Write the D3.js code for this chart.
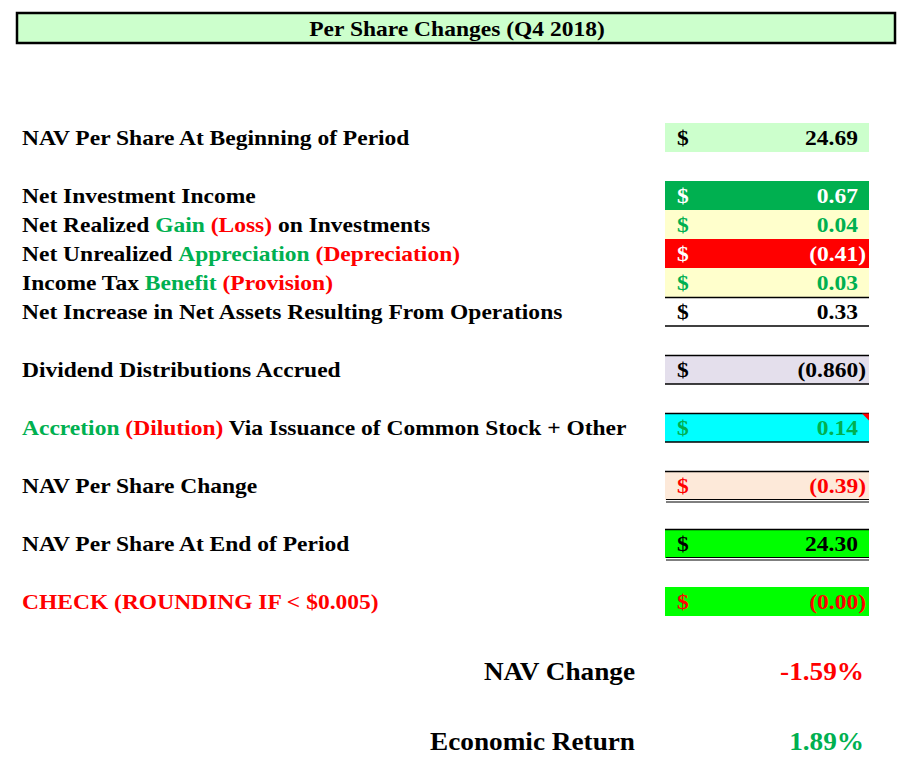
<!DOCTYPE html>
<html>
<head>
<meta charset="utf-8">
<script src="https://cdn.jsdelivr.net/npm/d3@7"></script>
<style>
  body { margin: 0; background: #fff; }
  svg text { font-family: "Liberation Serif", "Times New Roman", serif; font-weight: bold; }
</style>
</head>
<body>
<svg id="chart" width="909" height="778"></svg>
<script>
// sheet data
var title = 'Per Share Changes (Q4 2018)';
var rowIds = ['begin', 'nii', 'realized', 'unrealized', 'tax', 'ops', 'div', 'accr', 'chg', 'end', 'check'];
var rowSlots = [0, 2, 3, 4, 5, 6, 8, 10, 12, 14, 16];
// label pieces: [text, tone] tone: '' plain, 'pos' green, 'neg' red
var rowLabels = [
    [['NAV Per Share At Beginning of Period', '']],
    [['Net Investment Income', '']],
    [['Net Realized ', ''], ['Gain', 'pos'], [' (Loss)', 'neg'], [' on Investments', '']],
    [['Net Unrealized ', ''], ['Appreciation', 'pos'], [' (Depreciation)', 'neg']],
    [['Income Tax ', ''], ['Benefit', 'pos'], [' (Provision)', 'neg']],
    [['Net Increase in Net Assets Resulting From Operations', '']],
    [['Dividend Distributions Accrued', '']],
    [['Accretion', 'pos'], [' (Dilution)', 'neg'], [' Via Issuance of Common Stock + Other', '']],
    [['NAV Per Share Change', '']],
    [['NAV Per Share At End of Period', '']],
    [['CHECK (ROUNDING IF < $0.005)', 'neg']]
];
var rowValues = [24.69, 0.67, 0.04, -0.41, 0.03, 0.33, -0.860, 0.14, -0.39, 24.30, -0.001];
var rowDecimals = [2, 2, 2, 2, 2, 2, 3, 2, 2, 2, 2];

var summaryLabels = ['NAV Change', 'Economic Return'];
var summaryValues = [-1.59, 1.89];

// cell styling per row
var cellStyle = {
    begin:      {fill: '#CCFFCC', color: '#000'},
    nii:        {fill: '#00B050', color: '#fff'},
    realized:   {fill: '#FFFFCC', color: '#00B050'},
    unrealized: {fill: '#FF0000', color: '#fff'},
    tax:        {fill: '#FFFFCC', color: '#00B050'},
    ops:        {fill: 'none', color: '#000', top: 1, bottom: 1},
    div:        {fill: '#E4DFEC', color: '#000', top: 1, bottom: 1},
    accr:       {fill: '#00FFFF', color: '#00B050', top: 1, bottom: 1, note: true},
    chg:        {fill: '#FDE9D9', color: '#FF0000', top: 1, bottom: 2},
    end:        {fill: '#00FF00', color: '#000', top: 1, bottom: 2},
    check:      {fill: '#00FF00', color: '#FF0000'}
};
var toneColor = {'': '#000', pos: '#00B050', neg: '#FF0000'};

var svg = d3.select('#chart');

// text placed at x,y and stretched horizontally about its anchor
// (the sheet's Times renders wider than Liberation Serif)
function addText(parent, x, yy, size, anchor, stretch){
    return parent.append('g')
        .attr('transform', 'translate(' + x + ',' + yy + ') scale(' + (stretch || 1.12) + ',1)')
        .append('text')
        .attr('font-size', size)
        .attr('text-anchor', anchor || 'start');
}

// header bar
svg.append('rect')
    .attr('x', 17).attr('y', 13)
    .attr('width', 878).attr('height', 30)
    .attr('fill', '#CCFFCC')
    .attr('stroke', '#000')
    .attr('stroke-width', 2.5);
addText(svg, 457, 36, 21, 'middle').text(title);

// rows sit on a 29px sheet grid
var y = d3.scaleLinear().domain([0, 1]).range([123, 152]);
var rowH = y(1) - y(0);
var cellX = d3.scaleLinear().domain([0, 1]).range([665, 869]);

function fmt(v, dec){
    var s = Math.abs(v).toFixed(dec);
    return v < 0 ? '(' + s + ')' : s;
}

var rows = svg.selectAll('g.row')
    .data(rowIds.map(function(id, i){
        return {id: id, slot: rowSlots[i], label: rowLabels[i], value: rowValues[i], dec: rowDecimals[i]};
    }))
    .enter().append('g')
    .attr('class', 'row')
    .attr('transform', function(d){ return 'translate(0,' + y(d.slot) + ')'; });

rows.each(function(d){
    var g = d3.select(this);
    var st = cellStyle[d.id];
    var x0 = cellX(0), x1 = cellX(1);

    if (st.fill != 'none'){
        g.append('rect')
            .attr('x', x0).attr('y', 0)
            .attr('width', x1 - x0).attr('height', rowH)
            .attr('fill', st.fill);
    }
    if (st.top){
        g.append('line').attr('x1', x0).attr('x2', x1)
            .attr('y1', 0.5).attr('y2', 0.5)
            .attr('stroke', '#000').attr('stroke-width', 1.3);
    }
    if (st.bottom == 1){
        g.append('line').attr('x1', x0).attr('x2', x1)
            .attr('y1', rowH).attr('y2', rowH)
            .attr('stroke', '#000').attr('stroke-width', 1.3);
    } else if (st.bottom == 2){
        [rowH - 0.5, rowH + 2].forEach(function(yy){
            g.append('line').attr('x1', x0 + 1).attr('x2', x1)
                .attr('y1', yy).attr('y2', yy)
                .attr('stroke', '#000').attr('stroke-width', 1);
        });
    }
    if (st.note){
        g.append('path')
            .attr('d', 'M' + (x1 - 7) + ',0.5 L' + x1 + ',0.5 L' + x1 + ',7.5 Z')
            .attr('fill', '#FF0000');
    }

    // label with coloured pieces
    var lbl = addText(g, 22, rowH - 7, 21)
        .attr('xml:space', 'preserve');
    d.label.forEach(function(p){
        lbl.append('tspan').attr('fill', toneColor[p[1]]).text(p[0]);
    });

    addText(g, x0 + 12, rowH - 7, 21)
        .attr('fill', st.color)
        .text('$');
    addText(g, d.value < 0 ? x1 - 3 : x1 - 11, rowH - 7, 21, 'end')
        .attr('fill', st.color)
        .text(fmt(d.value, d.dec));
});

// summary lines
var sy = d3.scaleLinear().domain([0, 1]).range([680, 750]);
summaryLabels.forEach(function(lab, i){
    addText(svg, 635, sy(i), 25, 'end', 1.09).text(lab);
    addText(svg, 864, sy(i), 25, 'end', 1.09)
        .attr('fill', summaryValues[i] < 0 ? '#FF0000' : '#00B050')
        .text(summaryValues[i].toFixed(2) + '%');
});
</script>
</body>
</html>
